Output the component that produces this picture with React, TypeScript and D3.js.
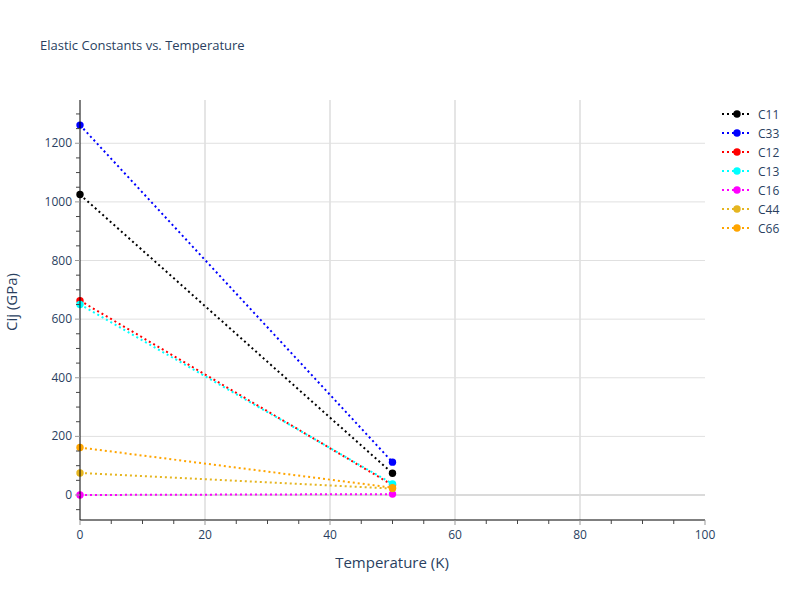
import React from "react";
import * as d3 from "d3";

const temps = [0, 50];
const seriesNames = ["C11", "C33", "C12", "C13", "C16", "C44", "C66"];
const seriesColors = ["black", "blue", "red", "cyan", "magenta", "#e5b520", "orange"];
const C11 = [1025, 74];
const C33 = [1262, 112];
const C12 = [663, 34];
const C13 = [650, 38];
const C16 = [0, 3];
const C44 = [75, 22];
const C66 = [162, 25];
const seriesValues = [C11, C33, C12, C13, C16, C44, C66];
const xTicks = [0, 20, 40, 60, 80, 100];
const yTicks = [0, 200, 400, 600, 800, 1000, 1200];

const W = 800, H = 600;
const L = 80, R = 705, T = 100, B = 520;
const FONT = "'Open Sans', sans-serif";
const TXT = "#2a3f5f";

export default function App() {
  const x = d3.scaleLinear().domain([0, 100]).range([L, R]);
  const y = d3.scaleLinear().domain([-85.3, 1347.6]).range([B, T]);
  const line = d3.line<number>().x((_, i) => x(temps[i])).y((v) => y(v));
  const xMinor = d3.range(0, 100.01, 5).filter((v) => v % 20 !== 0);
  const yMinor = d3.range(-50, 1340, 50).filter((v) => v % 200 !== 0);

  return (
    <svg width={W} height={H} style={{ position: "absolute", left: 0, top: 0, background: "white" }} fontFamily={FONT}>
      <text x={40} y={50} fontSize={13} fill={TXT}>Elastic Constants vs. Temperature</text>
      {xTicks.filter((v) => v > 0 && v < 100).map((v) => (
        <line key={"gx" + v} x1={x(v)} x2={x(v)} y1={T} y2={B} stroke="#e5e5e5" strokeWidth={2} />
      ))}
      {yTicks.filter((v) => v !== 0).map((v) => (
        <line key={"gy" + v} x1={L} x2={R} y1={y(v)} y2={y(v)} stroke="#e0e0e0" strokeWidth={1} />
      ))}
      <line x1={L} x2={R} y1={y(0)} y2={y(0)} stroke="#dadada" strokeWidth={2} />
      {seriesNames.map((n, si) => (
        <g key={n}>
          <path d={line(seriesValues[si]) || ""} fill="none" stroke={seriesColors[si]} strokeWidth={2} strokeDasharray="2,3" />
          {seriesValues[si].map((v, i) => (
            <circle key={i} cx={x(temps[i])} cy={y(v)} r={3.7} fill={seriesColors[si]} />
          ))}
        </g>
      ))}
      <line x1={L} x2={L} y1={T} y2={B} stroke="black" strokeWidth={1} />
      <line x1={L} x2={R} y1={B} y2={B} stroke="black" strokeWidth={1} />
      {xTicks.map((v) => (
        <g key={"xt" + v}>
          <line x1={x(v)} x2={x(v)} y1={B} y2={B + 5} stroke="#999" strokeWidth={1} />
          <text x={x(v)} y={B + 19} fontSize={12} fill={TXT} textAnchor="middle">{v}</text>
        </g>
      ))}
      {xMinor.map((v) => (
        <line key={"xm" + v} x1={x(v)} x2={x(v)} y1={B} y2={B + 4} stroke="#444" strokeWidth={1} />
      ))}
      {yTicks.map((v) => (
        <g key={"yt" + v}>
          <line x1={L - 5} x2={L} y1={y(v)} y2={y(v)} stroke="#999" strokeWidth={1} />
          <text x={L - 8} y={y(v) + 4} fontSize={12} fill={TXT} textAnchor="end">{v}</text>
        </g>
      ))}
      {yMinor.map((v) => (
        <line key={"ym" + v} x1={L - 4} x2={L} y1={y(v)} y2={y(v)} stroke="#444" strokeWidth={1} />
      ))}
      <text x={392} y={568} fontSize={15} fill={TXT} textAnchor="middle">Temperature (K)</text>
      <text transform={`translate(17,${(T + B) / 2 - 8}) rotate(-90)`} fontSize={15} fill={TXT} textAnchor="middle">Cij (GPa)</text>
      {seriesNames.map((n, si) => (
        <g key={"lg" + n} transform={`translate(722,${114 + si * 19})`}>
          <line x1={0} x2={30} y1={0} y2={0} stroke={seriesColors[si]} strokeWidth={2} strokeDasharray="2,3" />
          <circle cx={15} cy={0} r={3.7} fill={seriesColors[si]} />
          <text x={36} y={4.5} fontSize={12} fill={TXT}>{n}</text>
        </g>
      ))}
    </svg>
  );
}
